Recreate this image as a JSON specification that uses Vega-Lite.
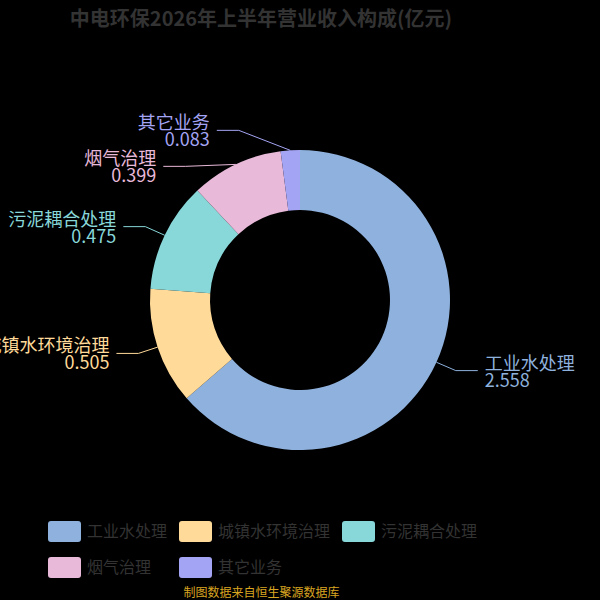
{
  "$schema": "https://vega.github.io/schema/vega-lite/v6.json",
  "width": 600,
  "height": 600,
  "autosize": "none",
  "padding": 0,
  "background": "#000000",
  "config": {
    "view": {"stroke": null},
    "font": "Noto Sans CJK SC"
  },
  "title": {
    "text": "中电环保2026年上半年营业收入构成(亿元)",
    "fontSize": 20,
    "fontWeight": "bold",
    "color": "#333333",
    "anchor": "middle",
    "frame": "group",
    "dx": -39,
    "offset": -30
  },
  "data": {
    "values": [
      {"cat": "工业水处理", "value": 2.558},
      {"cat": "城镇水环境治理", "value": 0.505},
      {"cat": "污泥耦合处理", "value": 0.475},
      {"cat": "烟气治理", "value": 0.399},
      {"cat": "其它业务", "value": 0.083}
    ]
  },
  "transform": [
    {"window": [{"op": "row_number", "as": "idx"}]},
    {"joinaggregate": [{"op": "sum", "field": "value", "as": "total"}]},
    {"window": [{"op": "sum", "field": "value", "as": "cum"}], "sort": [{"field": "idx", "order": "ascending"}]},
    {"calculate": "2 * PI * (datum.cum - datum.value / 2) / datum.total", "as": "ang"},
    {"calculate": "sin(datum.ang) >= 0 ? 1 : -1", "as": "side"},
    {"calculate": "150 * sin(datum.ang)", "as": "px1"},
    {"calculate": "150 * cos(datum.ang)", "as": "py1"},
    {"calculate": "170 * cos(datum.ang)", "as": "py2r"},
    {"window": [{"op": "lag", "field": "py2r", "as": "prevY"}], "groupby": ["side"], "sort": [{"field": "py2r", "order": "descending"}]},
    {"calculate": "datum.prevY == null ? datum.py2r : min(datum.py2r, datum.prevY - 36)", "as": "py2"},
    {"calculate": "abs(datum.py2)", "as": "dyv"},
    {"calculate": "datum.side * (datum.dyv < 182 ? 169 * sqrt(1 - pow(datum.dyv / 182, 2)) : 0)", "as": "px2"},
    {"calculate": "datum.px2 + datum.side * 22", "as": "px3"},
    {"calculate": "datum.px3 + datum.side * 7", "as": "pxt"},
    {"calculate": "datum.cat + '\\n' + format(datum.value, '.3f')", "as": "lbl"}
  ],
  "layer": [
    {
      "mark": {"type": "arc", "outerRadius": 150, "innerRadius": 90},
      "encoding": {
        "theta": {"field": "value", "type": "quantitative", "stack": true},
        "order": {"field": "idx", "type": "quantitative"},
        "color": {
          "field": "cat",
          "type": "nominal",
          "scale": {
            "domain": ["工业水处理", "城镇水环境治理", "污泥耦合处理", "烟气治理", "其它业务"],
            "range": ["#8EB1DD", "#FFDA99", "#88D7D9", "#E8B9D9", "#A4A4F4"]
          },
          "legend": {
            "orient": "none",
            "legendX": 48,
            "legendY": 515,
            "direction": "horizontal",
            "columns": 3,
            "gridAlign": "none",
            "title": null,
            "symbolType": "M-0.82,-0.64H0.82Q1,-0.64 1,-0.46V0.46Q1,0.64 0.82,0.64H-0.82Q-1,0.64 -1,0.46V-0.46Q-1,-0.64 -0.82,-0.64Z",
            "symbolSize": 1089,
            "symbolStrokeWidth": 0,
            "symbolOpacity": 1,
            "labelFontSize": 16,
            "labelColor": "#333333",
            "labelOffset": 6,
            "columnPadding": 11,
            "rowPadding": 8,
            "labelLimit": 300
          }
        }
      }
    },
    {
      "mark": {"type": "rule", "strokeWidth": 1},
      "encoding": {
        "x": {
          "field": "px1",
          "type": "quantitative",
          "scale": {"domain": [-300, 300], "nice": false, "zero": false},
          "axis": {
            "domain": false,
            "ticks": false,
            "labels": false,
            "grid": false,
            "title": "制图数据来自恒生聚源数据库",
            "titleColor": "#DAA520",
            "titleFontSize": 12,
            "titleFontWeight": "normal",
            "titleX": 261,
            "titleY": -8,
            "titleAlign": "center",
            "titleBaseline": "middle"
          }
        },
        "y": {
          "field": "py1",
          "type": "quantitative",
          "scale": {"domain": [-300, 300], "nice": false, "zero": false},
          "axis": null
        },
        "x2": {"field": "px2"},
        "y2": {"field": "py2"},
        "color": {"field": "cat", "type": "nominal"}
      }
    },
    {
      "mark": {"type": "rule", "strokeWidth": 1},
      "encoding": {
        "x": {"field": "px2", "type": "quantitative", "axis": null},
        "y": {"field": "py2", "type": "quantitative", "axis": null},
        "x2": {"field": "px3"},
        "y2": {"field": "py2"},
        "color": {"field": "cat", "type": "nominal"}
      }
    },
    {
      "transform": [{"filter": "datum.side > 0"}],
      "mark": {"type": "text", "align": "left", "baseline": "middle", "fontSize": 18, "lineHeight": 17, "dy": -6, "lineBreak": "\n"},
      "encoding": {
        "x": {"field": "pxt", "type": "quantitative", "axis": null},
        "y": {"field": "py2", "type": "quantitative", "axis": null},
        "text": {"field": "lbl"},
        "color": {"field": "cat", "type": "nominal"}
      }
    },
    {
      "transform": [{"filter": "datum.side < 0"}],
      "mark": {"type": "text", "align": "right", "baseline": "middle", "fontSize": 18, "lineHeight": 17, "dy": -6, "lineBreak": "\n"},
      "encoding": {
        "x": {"field": "pxt", "type": "quantitative", "axis": null},
        "y": {"field": "py2", "type": "quantitative", "axis": null},
        "text": {"field": "lbl"},
        "color": {"field": "cat", "type": "nominal"}
      }
    }
  ],
  "resolve": {"axis": {"x": "independent", "y": "independent"}}
}
